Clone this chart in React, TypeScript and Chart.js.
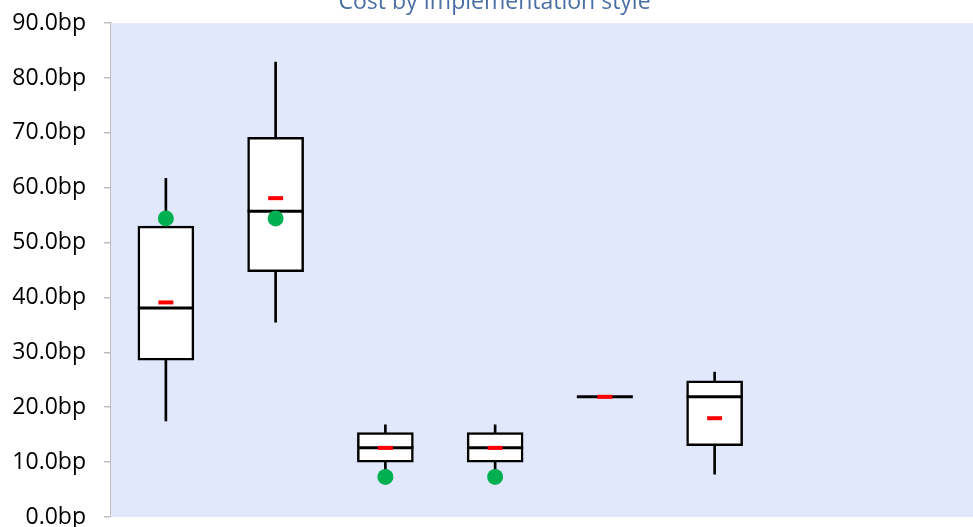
import React, { useEffect, useRef } from "react";
import { Chart, registerables } from "chart.js";

Chart.register(...registerables);

const categories = ["Style A", "Style B", "Style C", "Style D", "Style E", "Style F"];
const whiskerLow = [17.5, 35.5, 8.0, 8.0, 21.9, 7.8];
const q1 = [28.6, 44.7, 10.0, 10.0, 21.9, 13.0];
const median = [38.1, 55.7, 12.6, 12.6, 21.9, 21.9];
const q3 = [53.0, 69.2, 15.4, 15.4, 21.9, 24.8];
const whiskerHigh = [61.7, 82.9, 16.8, 16.8, 21.9, 26.4];
const means = [39.1, 58.1, 12.6, 12.6, 21.9, 18.0];
const markers: (number | null)[] = [54.4, 54.4, 7.3, 7.3, null, null];
const yTicks = [0, 10, 20, 30, 40, 50, 60, 70, 80, 90];

const TITLE = "Cost by Implementation style";
const OFFSET_TOP = 20;
const CANVAS_W = 992;
const CANVAS_H = 571;

const bgPlugin = {
  id: "plotBg",
  beforeDatasetsDraw(chart: any) {
    const { ctx, chartArea } = chart;
    ctx.save();
    ctx.fillStyle = "#E1E8FB";
    ctx.fillRect(chartArea.left, chartArea.top, chartArea.right - chartArea.left, chartArea.bottom - chartArea.top);
    ctx.restore();
  },
};

export default function App() {
  const ref = useRef<HTMLCanvasElement | null>(null);
  useEffect(() => {
    if (!ref.current) return;
    const idx = categories.map((_, i) => i);
    const chart = new Chart(ref.current, {
      type: "bar",
      data: {
        datasets: [
          {
            type: "bar",
            label: "whisker",
            data: idx.map((i) => ({ x: i, y: [whiskerLow[i], whiskerHigh[i]] })),
            backgroundColor: "#000000",
            borderWidth: 0,
            barThickness: 2,
            grouped: false,
            order: 4,
          } as any,
          {
            type: "bar",
            label: "box",
            data: idx.map((i) => ({ x: i, y: [q1[i], q3[i]] })),
            backgroundColor: "#FFFFFF",
            borderColor: "#000000",
            borderWidth: 2.5,
            borderSkipped: false,
            barThickness: 56,
            grouped: false,
            order: 3,
          } as any,
          {
            type: "scatter",
            label: "median",
            data: idx.map((i) => ({ x: i, y: median[i] })),
            pointStyle: "line",
            pointRadius: 28,
            borderColor: "#000000",
            pointBorderColor: "#000000",
            pointBorderWidth: 3,
            order: 2,
          } as any,
          {
            type: "scatter",
            label: "mean",
            data: idx.map((i) => ({ x: i, y: means[i] })),
            pointStyle: "line",
            pointRadius: 7.5,
            borderColor: "#FF0000",
            pointBorderColor: "#FF0000",
            pointBorderWidth: 4,
            order: 1,
          } as any,
          {
            type: "scatter",
            label: "marker",
            data: idx.filter((i) => markers[i] !== null).map((i) => ({ x: i, y: markers[i] })),
            pointStyle: "circle",
            pointRadius: 8,
            pointBackgroundColor: "#00B050",
            pointBorderWidth: 0,
            order: 0,
          } as any,
        ],
      },
      options: {
        animation: false,
        responsive: false,
        devicePixelRatio: 1,
        layout: {
          autoPadding: false,
          padding: { left: 0, right: 3, top: 0, bottom: CANVAS_H - OFFSET_TOP - 517 },
        },
        plugins: {
          legend: { display: false },
          tooltip: { enabled: false },
          title: {
            display: true,
            text: TITLE,
            color: "#4A6FA5",
            font: { family: "'Open Sans', sans-serif", size: 23, weight: "normal" as any },
            padding: { top: 8.5, bottom: 7 },
          },
        },
        scales: {
          x: {
            type: "linear",
            min: -0.5,
            max: 7.5,
            display: false,
            offset: false,
          },
          y: {
            type: "linear",
            min: 0,
            max: 90,
            afterBuildTicks: (scale: any) => {
              scale.ticks = yTicks.map((v) => ({ value: v }));
            },
            afterFit: (scale: any) => {
              scale.width = 111;
            },
            ticks: {
              color: "#000000",
              font: { family: "'Open Sans', sans-serif", size: 23 },
              padding: 18,
              callback: (v: any) => Number(v).toFixed(1) + "bp",
            },
            grid: {
              drawOnChartArea: false,
              tickLength: 7,
              color: "#BFBFBF",
              lineWidth: 1.5,
            },
            border: { color: "#BFBFBF", width: 1.5 },
          },
        },
      } as any,
      plugins: [bgPlugin],
    });
    return () => chart.destroy();
  }, []);

  return (
    <div style={{ position: "fixed", left: 0, top: -OFFSET_TOP, width: CANVAS_W, height: CANVAS_H, background: "#FFFFFF" }}>
      <canvas ref={ref} width={CANVAS_W} height={CANVAS_H} style={{ display: "block" }} />
    </div>
  );
}
